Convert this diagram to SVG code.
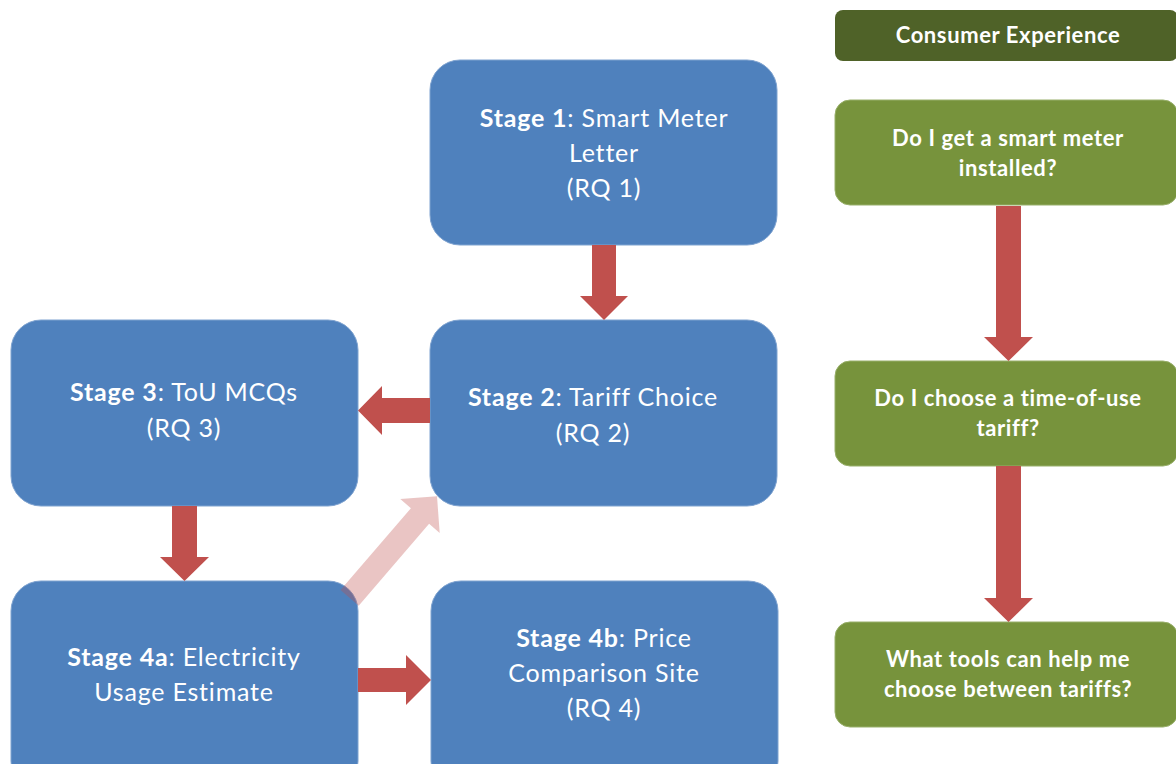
<svg xmlns="http://www.w3.org/2000/svg" width="1176" height="764" viewBox="0 0 1176 764">
<style>
.blue{fill:#4F81BD;stroke:#7FA3D0;stroke-width:1}
.green{fill:#77933C;stroke:#98AF6A;stroke-width:1}
.hdr{fill:#4F6228}
.arr{fill:#C0504D}
.faint{fill:#C0504D;fill-opacity:0.33}
.bt{font-family:Lato,"Open Sans","Liberation Sans",sans-serif;font-size:25px;letter-spacing:0.8px;fill:#FFFFFF;text-anchor:middle}
.bt .b{font-weight:bold}
.gt{font-family:Lato,"Open Sans","Liberation Sans",sans-serif;font-size:22px;letter-spacing:0.6px;font-weight:bold;fill:#FFFFFF;text-anchor:middle}
</style>
<rect width="1176" height="764" fill="#FFFFFF"/>
<g id="stage1">
<rect class="blue" x="430" y="60" width="347" height="185" rx="30"/>
<text class="bt" x="604" y="127"><tspan class="b">Stage 1</tspan>: Smart Meter</text>
<text class="bt" x="604" y="162">Letter</text>
<text class="bt" x="604" y="197">(RQ 1)</text>
</g>
<g id="stage2">
<rect class="blue" x="430" y="320" width="347" height="186" rx="30"/>
<text class="bt" x="593" y="406"><tspan class="b">Stage 2</tspan>: Tariff Choice</text>
<text class="bt" x="593" y="442">(RQ 2)</text>
</g>
<g id="stage3">
<rect class="blue" x="11" y="320" width="347" height="186" rx="30"/>
<text class="bt" x="184" y="401"><tspan class="b">Stage 3</tspan>: ToU MCQs</text>
<text class="bt" x="184" y="437">(RQ 3)</text>
</g>
<g id="stage4a">
<rect class="blue" x="11" y="581" width="347" height="210" rx="30"/>
<text class="bt" x="184" y="666"><tspan class="b">Stage 4a</tspan>: Electricity</text>
<text class="bt" x="184" y="701">Usage Estimate</text>
</g>
<g id="stage4b">
<rect class="blue" x="431" y="581" width="347" height="210" rx="30"/>
<text class="bt" x="604" y="647"><tspan class="b">Stage 4b</tspan>: Price</text>
<text class="bt" x="604" y="682">Comparison Site</text>
<text class="bt" x="604" y="717">(RQ 4)</text>
</g>
<g id="header">
<rect class="hdr" x="835" y="10" width="343" height="51" rx="8"/>
<text class="gt" x="1008" y="43">Consumer Experience</text>
</g>
<g id="q1">
<rect class="green" x="835" y="100" width="343" height="105" rx="15"/>
<text class="gt" x="1008" y="146">Do I get a smart meter</text>
<text class="gt" x="1008" y="176">installed?</text>
</g>
<g id="q2">
<rect class="green" x="835" y="361" width="343" height="105" rx="15"/>
<text class="gt" x="1008" y="406">Do I choose a time-of-use</text>
<text class="gt" x="1008" y="436">tariff?</text>
</g>
<g id="q3">
<rect class="green" x="835" y="622" width="343" height="105" rx="15"/>
<text class="gt" x="1008" y="667">What tools can help me</text>
<text class="gt" x="1008" y="697">choose between tariffs?</text>
</g>
<g id="connectors">
<polygon class="arr" points="592,245 616,245 616,296 628,296 604,320 580,296 592,296"/>
<polygon class="arr" points="430,398 382,398 382,386 358,410.5 382,435 382,423 430,423"/>
<polygon class="arr" points="172,506 197,506 197,557 209,557 184.5,581 160,557 172,557"/>
<polygon class="arr" points="358,668 406,668 406,655 431,680 406,705 406,692 358,692"/>
<polygon class="faint" points="340.5,590.1 410.9,508.2 400.3,499 437,496.3 439.7,533 429.1,523.8 358.7,605.7"/>
<polygon class="arr" points="996,206 1021,206 1021,337 1033,337 1008.5,361 984,337 996,337"/>
<polygon class="arr" points="996,466 1021,466 1021,598 1033,598 1008.5,622 984,598 996,598"/>
</g>
</svg>
